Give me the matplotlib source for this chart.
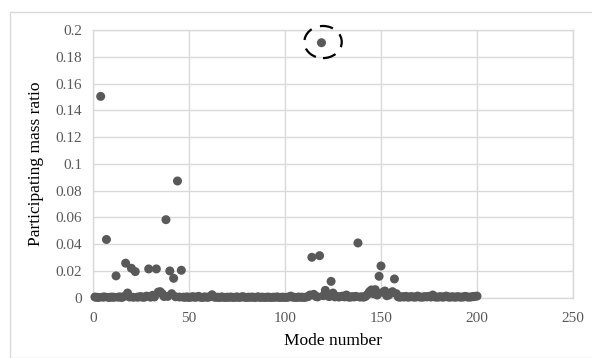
import matplotlib.pyplot as plt
from matplotlib.patches import Ellipse, Rectangle

# mode numbers 1..200 and participating mass ratio
mode_number = list(range(1, 201))
mass_ratio = [
    # 1-20
    0.0005, 0.0003, 0.0002, 0.1504, 0.0004, 0.0006, 0.0435, 0.0002, 0.0003, 0.0005,
    0.0003, 0.0163, 0.0004, 0.0006, 0.0002, 0.0008, 0.0258, 0.0035, 0.0005, 0.0220,
    # 21-40
    0.0003, 0.0195, 0.0004, 0.0006, 0.0008, 0.0003, 0.0005, 0.0012, 0.0215, 0.0004,
    0.0018, 0.0006, 0.0215, 0.0042, 0.0045, 0.0030, 0.0009, 0.0583, 0.0010, 0.0200,
    # 41-60
    0.0030, 0.0145, 0.0007, 0.0872, 0.0005, 0.0205, 0.0004, 0.0003, 0.0006, 0.0002,
    0.0004, 0.0008, 0.0003, 0.0005, 0.0010, 0.0003, 0.0002, 0.0006, 0.0004, 0.0003,
    # 61-80
    0.0008, 0.0022, 0.0005, 0.0003, 0.0004, 0.0002, 0.0006, 0.0003, 0.0002, 0.0004,
    0.0003, 0.0005, 0.0002, 0.0003, 0.0006, 0.0002, 0.0004, 0.0008, 0.0003, 0.0002,
    # 81-100
    0.0004, 0.0003, 0.0005, 0.0002, 0.0003, 0.0007, 0.0002, 0.0004, 0.0003, 0.0002,
    0.0005, 0.0003, 0.0002, 0.0004, 0.0003, 0.0006, 0.0002, 0.0003, 0.0004, 0.0002,
    # 101-120
    0.0003, 0.0005, 0.0012, 0.0004, 0.0003, 0.0002, 0.0005, 0.0003, 0.0004, 0.0002,
    0.0005, 0.0008, 0.0020, 0.0302, 0.0025, 0.0010, 0.0006, 0.0314, 0.1905, 0.0015,
    # 121-140
    0.0055, 0.0020, 0.0008, 0.0122, 0.0035, 0.0006, 0.0010, 0.0005, 0.0008, 0.0012,
    0.0006, 0.0020, 0.0005, 0.0004, 0.0008, 0.0006, 0.0010, 0.0409, 0.0005, 0.0007,
    # 141-160
    0.0004, 0.0010, 0.0025, 0.0045, 0.0058, 0.0030, 0.0060, 0.0020, 0.0160, 0.0237,
    0.0040, 0.0050, 0.0015, 0.0020, 0.0035, 0.0045, 0.0140, 0.0030, 0.0006, 0.0004,
    # 161-180
    0.0008, 0.0005, 0.0010, 0.0004, 0.0006, 0.0008, 0.0005, 0.0004, 0.0012, 0.0006,
    0.0004, 0.0005, 0.0008, 0.0006, 0.0010, 0.0005, 0.0020, 0.0006, 0.0004, 0.0005,
    # 181-200
    0.0008, 0.0004, 0.0006, 0.0012, 0.0005, 0.0004, 0.0007, 0.0005, 0.0004, 0.0008,
    0.0005, 0.0004, 0.0006, 0.0010, 0.0005, 0.0004, 0.0006, 0.0008, 0.0010, 0.0012,
]
x_ticks = [0, 50, 100, 150, 200, 250]
y_ticks = [0, 0.02, 0.04, 0.06, 0.08, 0.1, 0.12, 0.14, 0.16, 0.18, 0.2]
y_tick_labels = ['0', '0.02', '0.04', '0.06', '0.08', '0.1', '0.12', '0.14', '0.16', '0.18', '0.2']
highlight_mode = 119

plt.rcParams['font.family'] = ['Liberation Serif', 'DejaVu Serif']

W, H = 592, 358
fig = plt.figure(figsize=(W / 100, H / 100), dpi=100)
ax = fig.add_axes([93 / W, 1 - 297.7 / H, 480 / W, 267.7 / H])

GRID = '#d9d9d9'
POINT = '#595959'

ax.scatter(mode_number, mass_ratio, s=42, color=POINT, edgecolors='none', zorder=3, clip_on=False)

# dashed ring round the largest mode
peak = mass_ratio[mode_number.index(highlight_mode)]
ring = Ellipse((highlight_mode + 0.8, peak + 0.0005), width=19.5, height=0.024,
               fill=False, edgecolor='black', linestyle=(0, (6, 4)), linewidth=1.6,
               zorder=4, clip_on=False)
ax.add_patch(ring)

ax.set_xlim(0, 250)
ax.set_ylim(0, 0.2)
ax.set_xticks(x_ticks)
ax.set_yticks(y_ticks)
ax.set_yticklabels(y_tick_labels)
ax.grid(True, color=GRID, linewidth=1)
ax.set_axisbelow(True)
for s in ax.spines.values():
    s.set_color(GRID)
    s.set_linewidth(1)
ax.tick_params(length=0, labelsize=11, colors='#595959', pad=8)
ax.tick_params(axis='x', pad=10)

ax.set_xlabel('Mode number', fontsize=12.5, color='black', labelpad=6)
ax.set_ylabel('Participating mass ratio', fontsize=12.5, color='black', labelpad=8)

# outer chart frame
fig.patches.append(Rectangle((10 / W, 0), 1 - 10 / W + 0.01, 1 - 11.5 / H,
                             transform=fig.transFigure, fill=False,
                             edgecolor=GRID, linewidth=1))

fig.savefig('out.png', dpi=100)
